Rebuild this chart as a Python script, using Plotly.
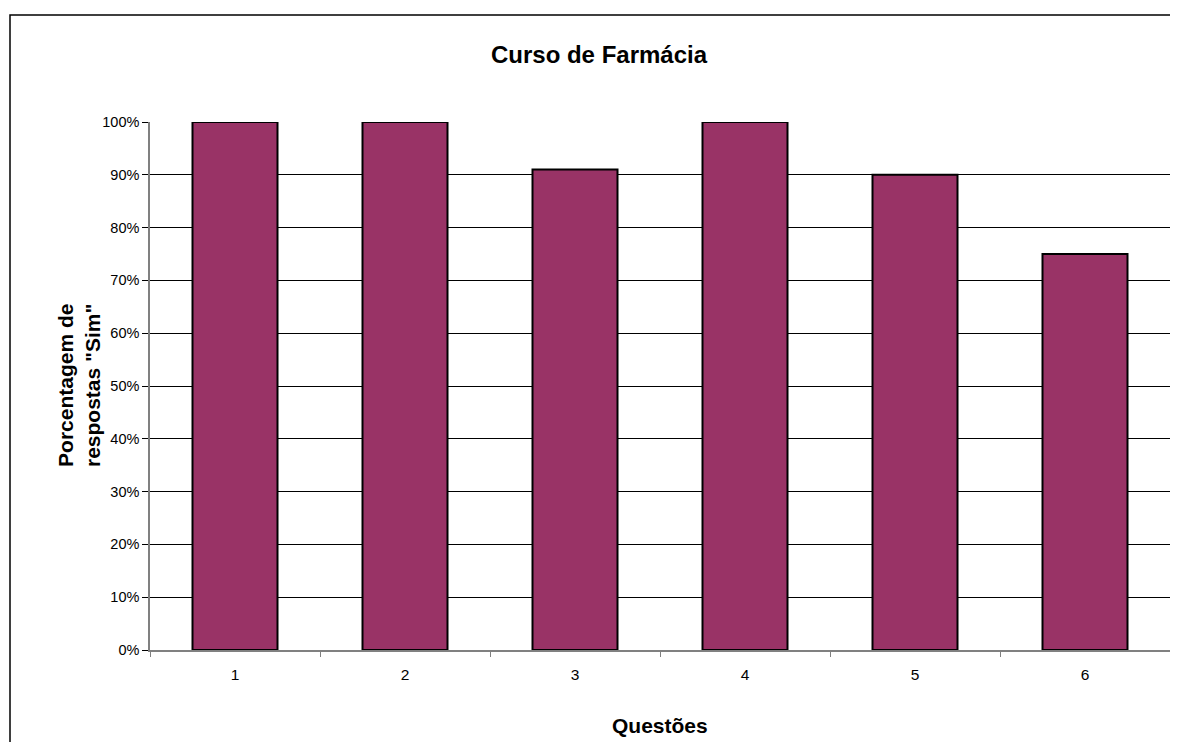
import plotly.graph_objects as go

questoes = ["1", "2", "3", "4", "5", "6"]
pct_sim = [100, 100, 91, 100, 90, 75]
y_ticks = [0, 10, 20, 30, 40, 50, 60, 70, 80, 90, 100]
y_tick_labels = [f"{v}%" for v in y_ticks]

fig = go.Figure()
fig.add_trace(go.Bar(
    x=questoes, y=pct_sim, width=0.5,
    marker=dict(color="#993366", line=dict(color="black", width=2)),
))

# page has an 8px body margin, so the figure is shifted by 8px
W, H = 1170, 734
L, R, T, B = 142, 8, 114, 92
pw, ph = W - L - R, H - T - B

fig.update_layout(
    width=W, height=H,
    margin=dict(l=L, r=R, t=T, b=B),
    paper_bgcolor="white", plot_bgcolor="white",
    showlegend=False,
    font=dict(family="Arial, Liberation Sans, sans-serif", color="black", size=14),
    title=dict(text="<b>Curso de Farmácia</b>", x=591 / W, xanchor="center",
               y=1 - 47 / H, yanchor="middle", font=dict(size=24)),
)
fig.update_xaxes(
    type="category", tickson="boundaries", ticks="outside", ticklen=5,
    tickcolor="#808080", showline=True, linecolor="#808080", linewidth=1.5,
    showgrid=False, tickfont=dict(size=15.5), ticklabelstandoff=10,
)
fig.update_yaxes(
    range=[0, 100], tickmode="array", tickvals=y_ticks, ticktext=y_tick_labels,
    ticks="outside", ticklen=6, tickfont=dict(size=14.5),
    tickcolor="black", showline=True, linecolor="#808080", linewidth=1.5,
    showgrid=True, gridcolor="black", gridwidth=1, zeroline=False,
)

# axis titles
fig.add_annotation(text="<b>Questões</b>", xref="paper", yref="paper",
                   x=0.5, y=(H - B - 717) / ph, xanchor="center", yanchor="middle",
                   showarrow=False, font=dict(size=21))
fig.add_annotation(text='<b>Porcentagem de<br>respostas "Sim"</b>', xref="paper", yref="paper",
                   x=(71 - L) / pw, y=0.5, xanchor="center", yanchor="middle",
                   textangle=-90, showarrow=False, font=dict(size=21))

# chart-area border (left and top edges visible)
x0 = (2 - L) / pw
y1 = 1 + (T - 7) / ph
fig.add_shape(type="rect", xref="paper", yref="paper",
              x0=x0, x1=1.2, y0=-0.5, y1=y1,
              line=dict(color="black", width=1.5), fillcolor="rgba(0,0,0,0)", layer="below")

fig.write_html("out.html")
